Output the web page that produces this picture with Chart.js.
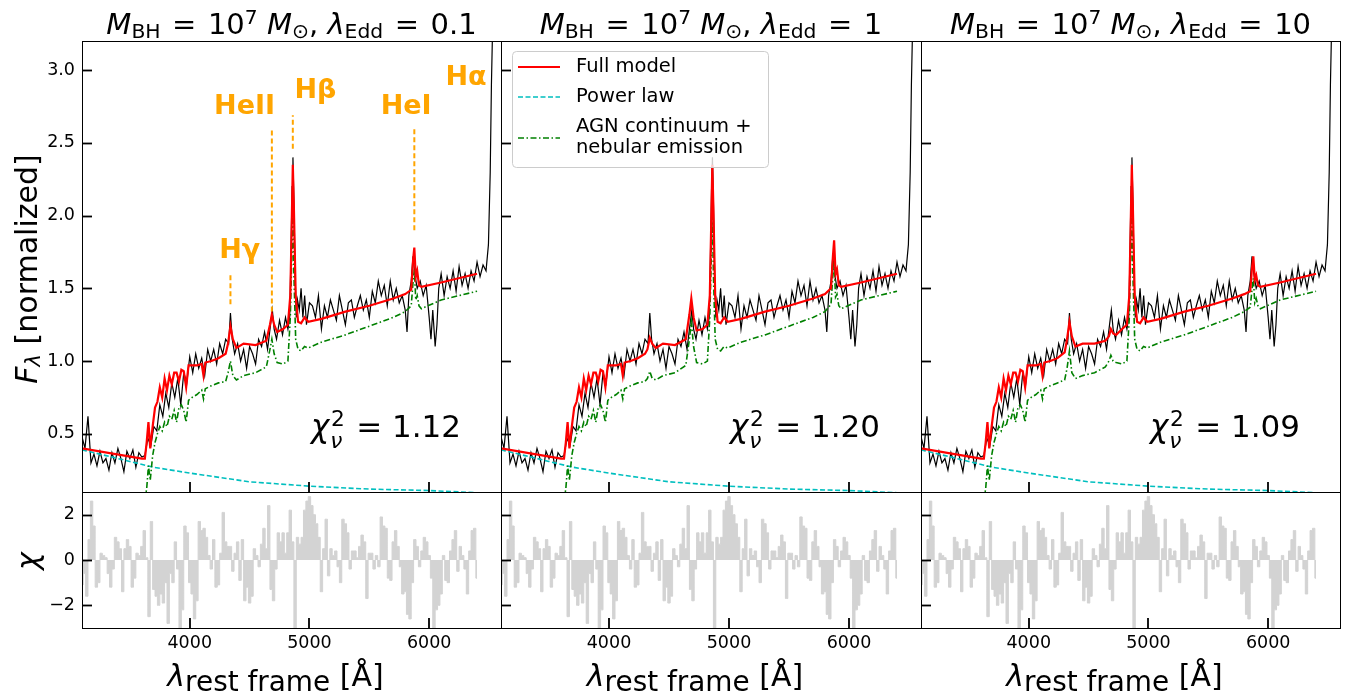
<!DOCTYPE html>
<html>
<head>
<meta charset="utf-8">
<script src="https://cdn.jsdelivr.net/npm/chart.js@4.4.1/dist/chart.umd.min.js"></script>
<style>
  body { margin: 0; background: #fff; width: 1357px; height: 698px; position: relative; overflow: hidden;
         font-family: 'DejaVu Sans', sans-serif; color: #000; }
  canvas { position: absolute; }
  .txt { position: absolute; white-space: nowrap; line-height: 1; }
  .title { font-size: 29px; transform: translateX(-50%); top: 7px; }
  .title .eq { margin: 0 0.08em; }
  .xlab { font-size: 30px; transform: translateX(-50%); top: 661px; }
  .xlab .sb { font-size: 0.93em; }
  .ylab { font-size: 30px; transform: translate(-50%, -50%) rotate(-90deg); }
  .chi2 { font-size: 31px; transform: translateX(-100%); top: 411px; }
  .sb { font-size: 0.7em; vertical-align: -0.18em; }
  .sp { font-size: 0.7em; vertical-align: 0.5em; }
  .ss { display: inline-block; position: relative; width: 0.55em; height: 0; }
  .ss .a { position: absolute; left: 0.08em; bottom: 0.36em; font-size: 0.7em; }
  .ss .b { position: absolute; left: 0.05em; top: -0.33em; font-size: 0.7em; font-style: italic; }
</style>
</head>
<body>
<script>
"use strict";

// observed spectrum (rest frame, normalized)
const obsWave = [3100, 3125, 3150, 3175, 3200, 3225, 3250, 3275, 3300, 3325, 3350, 3375, 3400, 3425, 3450, 3475,
  3500, 3525, 3550, 3575, 3600, 3625, 3650, 3675, 3700, 3725, 3750, 3775, 3800, 3825, 3850, 3875, 3900, 3925,
  3950, 3975, 4000, 4025, 4050, 4075, 4100, 4125, 4150, 4175, 4200, 4225, 4250, 4275, 4300, 4325, 4340, 4355,
  4375, 4400, 4425, 4450, 4475, 4500, 4525, 4550, 4575, 4600, 4625, 4650, 4675, 4690, 4705, 4725, 4750, 4775,
  4800, 4820, 4835, 4845, 4855, 4862, 4870, 4880, 4890, 4900, 4915, 4930, 4945, 4960, 4975, 5000, 5025, 5050,
  5075, 5100, 5125, 5150, 5175, 5200, 5225, 5250, 5275, 5300, 5325, 5350, 5375, 5400, 5425, 5450, 5475, 5500,
  5525, 5550, 5575, 5600, 5625, 5650, 5675, 5700, 5725, 5750, 5775, 5800, 5815, 5830, 5850, 5865, 5880, 5900,
  5925, 5950, 5975, 6000, 6015, 6030, 6050, 6065, 6080, 6100, 6125, 6150, 6175, 6200, 6225, 6250, 6275, 6300,
  6325, 6350, 6375, 6400, 6425, 6450, 6475, 6495, 6510, 6520, 6535];
const obsFlux = [0.48, 0.40, 0.62, 0.30, 0.36, 0.28, 0.38, 0.30, 0.33, 0.25, 0.37, 0.30, 0.40, 0.33, 0.24, 0.38,
  0.33, 0.39, 0.27, 0.37, 0.34, 0.35, 0.47, 0.42, 0.55, 0.52, 0.70, 0.62, 0.78, 0.68, 0.85, 0.75, 0.88, 0.70,
  0.92, 0.85, 1.03, 0.92, 1.05, 0.95, 1.02, 0.90, 1.08, 1.00, 1.08, 0.98, 1.12, 1.05, 1.15, 1.12, 1.33, 1.15,
  1.05, 1.12, 1.00, 1.08, 0.95, 1.10, 1.05, 0.98, 1.15, 1.10, 1.20, 1.08, 1.25, 1.35, 1.22, 1.15, 1.28, 1.18,
  1.30, 1.22, 1.30, 1.70, 2.20, 2.40, 2.10, 1.60, 1.30, 1.42, 1.35, 1.50, 1.30, 1.45, 1.25, 1.40, 1.38, 1.30,
  1.45, 1.22, 1.38, 1.30, 1.42, 1.35, 1.28, 1.45, 1.35, 1.25, 1.40, 1.42, 1.30, 1.38, 1.45, 1.35, 1.42, 1.30,
  1.48, 1.40, 1.55, 1.45, 1.52, 1.38, 1.55, 1.42, 1.50, 1.40, 1.45, 1.35, 1.20, 1.45, 1.55, 1.72, 1.60, 1.50,
  1.55, 1.45, 1.52, 1.30, 1.15, 1.35, 1.10, 1.25, 1.50, 1.60, 1.45, 1.58, 1.50, 1.62, 1.48, 1.65, 1.52, 1.60,
  1.50, 1.62, 1.55, 1.68, 1.58, 1.66, 1.62, 1.80, 2.30, 2.90, 3.50];

// model grid
const modelWave = [3100, 3600, 3625, 3640, 3655, 3670, 3690, 3710, 3730, 3750,
  3770, 3790, 3810, 3830, 3850, 3870, 3890, 3910, 3930, 3950,
  3970, 3990, 4020, 4060, 4100, 4115, 4130, 4180, 4240, 4300,
  4320, 4340, 4360, 4390, 4450, 4550, 4640, 4670, 4686, 4705,
  4730, 4780, 4820, 4840, 4852, 4861, 4870, 4885, 4905, 4930,
  4959, 4990, 5100, 5300, 5500, 5700, 5800, 5850, 5866, 5876,
  5888, 5900, 5915, 5935, 6100, 6400];

const fullModel1 = [0.40, 0.33, 0.33, 0.44, 0.58, 0.40, 0.55, 0.68, 0.72, 0.82,
  0.75, 0.88, 0.80, 0.90, 0.84, 0.92, 0.92, 0.86, 0.94, 0.93,
  0.82, 0.97, 0.97, 0.97, 0.98, 0.90, 0.99, 1.00, 1.02, 1.05,
  1.12, 1.24, 1.15, 1.09, 1.12, 1.11, 1.14, 1.25, 1.32, 1.25,
  1.20, 1.22, 1.25, 1.45, 1.95, 2.35, 2.05, 1.45, 1.27, 1.26,
  1.30, 1.27, 1.29, 1.34, 1.38, 1.43, 1.46, 1.49, 1.70, 1.78,
  1.58, 1.62, 1.52, 1.51, 1.54, 1.60];
const fullModel2 = [0.40, 0.33, 0.33, 0.44, 0.58, 0.40, 0.55, 0.68, 0.72, 0.82,
  0.75, 0.88, 0.80, 0.90, 0.84, 0.92, 0.92, 0.86, 0.94, 0.93,
  0.82, 0.97, 0.97, 0.97, 0.98, 0.90, 0.99, 1.00, 1.02, 1.05,
  1.08, 1.16, 1.12, 1.09, 1.12, 1.11, 1.15, 1.32, 1.43, 1.30,
  1.21, 1.22, 1.25, 1.45, 1.95, 2.35, 2.05, 1.45, 1.27, 1.26,
  1.30, 1.27, 1.29, 1.34, 1.38, 1.43, 1.46, 1.50, 1.72, 1.83,
  1.60, 1.63, 1.52, 1.51, 1.54, 1.60];
const fullModel3 = [0.40, 0.33, 0.33, 0.44, 0.58, 0.40, 0.55, 0.68, 0.72, 0.82,
  0.75, 0.88, 0.80, 0.90, 0.84, 0.92, 0.92, 0.86, 0.94, 0.93,
  0.82, 0.97, 0.97, 0.97, 0.98, 0.90, 0.99, 1.00, 1.02, 1.06,
  1.15, 1.27, 1.17, 1.10, 1.12, 1.12, 1.14, 1.17, 1.22, 1.19,
  1.18, 1.22, 1.25, 1.45, 1.95, 2.35, 2.05, 1.45, 1.27, 1.26,
  1.30, 1.27, 1.29, 1.34, 1.38, 1.43, 1.46, 1.48, 1.65, 1.72,
  1.56, 1.59, 1.52, 1.51, 1.54, 1.60];

const agnNeb1 = [null, -0.3, 0.05, 0.12, 0.28, 0.18, 0.35, 0.44, 0.50, 0.55,
  0.52, 0.58, 0.55, 0.62, 0.60, 0.66, 0.58, 0.68, 0.70, 0.66,
  0.58, 0.73, 0.75, 0.77, 0.80, 0.74, 0.81, 0.83, 0.85, 0.86,
  0.92, 1.00, 0.90, 0.87, 0.90, 0.92, 0.96, 1.08, 1.15, 1.05,
  0.99, 0.98, 1.00, 1.30, 1.70, 2.05, 1.60, 1.15, 1.08, 1.07,
  1.10, 1.09, 1.13, 1.18, 1.24, 1.30, 1.34, 1.38, 1.55, 1.63,
  1.42, 1.45, 1.38, 1.36, 1.42, 1.48];
const agnNeb2 = [null, -0.3, 0.05, 0.12, 0.28, 0.18, 0.35, 0.44, 0.50, 0.55,
  0.52, 0.58, 0.55, 0.62, 0.60, 0.66, 0.58, 0.68, 0.70, 0.66,
  0.58, 0.73, 0.75, 0.77, 0.80, 0.74, 0.81, 0.83, 0.85, 0.86,
  0.88, 0.93, 0.88, 0.87, 0.90, 0.92, 0.97, 1.15, 1.27, 1.10,
  0.99, 0.98, 1.00, 1.30, 1.70, 2.05, 1.60, 1.15, 1.08, 1.07,
  1.10, 1.09, 1.13, 1.18, 1.24, 1.30, 1.34, 1.39, 1.60, 1.68,
  1.44, 1.46, 1.38, 1.36, 1.42, 1.48];
const agnNeb3 = [null, -0.3, 0.05, 0.12, 0.28, 0.18, 0.35, 0.44, 0.50, 0.55,
  0.52, 0.58, 0.55, 0.62, 0.60, 0.66, 0.58, 0.68, 0.70, 0.66,
  0.58, 0.73, 0.75, 0.77, 0.80, 0.74, 0.81, 0.83, 0.85, 0.87,
  0.95, 1.07, 0.92, 0.88, 0.90, 0.92, 0.96, 1.00, 1.04, 1.00,
  0.99, 0.98, 1.00, 1.30, 1.70, 2.05, 1.60, 1.15, 1.08, 1.07,
  1.10, 1.09, 1.13, 1.18, 1.24, 1.30, 1.34, 1.37, 1.50, 1.57,
  1.40, 1.43, 1.38, 1.36, 1.42, 1.48];

const powWave = [3100, 3300, 3500, 3700, 4000, 4500, 5000, 5500, 6000, 6400];
const powFlux = [0.39, 0.35, 0.31, 0.27, 0.23, 0.17, 0.14, 0.12, 0.11, 0.095];

// residuals
const chiWave = [3100, 3120, 3140, 3160, 3180, 3200, 3220, 3240, 3260, 3280, 3300, 3320, 3340, 3360, 3380, 3400,
  3420, 3440, 3460, 3480, 3500, 3520, 3540, 3560, 3580, 3600, 3620, 3640, 3660, 3680, 3700, 3720, 3740, 3760,
  3780, 3800, 3820, 3840, 3860, 3880, 3900, 3920, 3940, 3960, 3980, 4000, 4020, 4040, 4060, 4080, 4100, 4120,
  4140, 4160, 4180, 4200, 4220, 4240, 4260, 4280, 4300, 4320, 4340, 4360, 4380, 4400, 4420, 4440, 4460, 4480,
  4500, 4520, 4540, 4560, 4580, 4600, 4620, 4640, 4660, 4680, 4700, 4720, 4740, 4760, 4780, 4800, 4820, 4840,
  4860, 4880, 4900, 4920, 4940, 4960, 4980, 5000, 5020, 5040, 5060, 5080, 5100, 5120, 5140, 5160, 5180, 5200,
  5220, 5240, 5260, 5280, 5300, 5320, 5340, 5360, 5380, 5400, 5420, 5440, 5460, 5480, 5500, 5520, 5540, 5560,
  5580, 5600, 5620, 5640, 5660, 5680, 5700, 5720, 5740, 5760, 5780, 5800, 5820, 5840, 5860, 5880, 5900, 5920,
  5940, 5960, 5980, 6000, 6020, 6040, 6060, 6080, 6100, 6120, 6140, 6160, 6180, 6200, 6220, 6240, 6260, 6280,
  6300, 6320, 6340, 6360, 6380, 6400];
const chiVal = [-1.1, -0.6, -1.6, 0.9, 2.6, 1.5, -1.2, -1.0, 0.3, 0.2, 0.1, -0.6, -1.2, -0.4, 1.0, 0.8,
  0.5, -1.4, 0.5, 0.9, 0.6, -1.2, -0.8, 0.3, 0.2, 0.6, 1.3, 0.1, -2.5, 1.7, -1.3, -1.6, -2.0, -1.5,
  -1.9, -1.0, -2.8, -0.6, -1.0, 0.8, -0.4, -3.0, -2.2, 1.5, 1.2, -1.0, -1.5, -2.6, -1.8, 1.7, 1.3, 1.4,
  1.0, 0.2, -0.4, 0.9, -1.2, -1.1, 0.3, 2.1, 0.8, 0.6, 0.6, -0.5, 0.3, 0.8, -0.9, 0.9, -1.8, -1.2,
  -1.9, -1.6, 0.5, 0.2, -0.3, 0.7, 1.4, 0.5, 2.4, -1.3, -1.8, -0.4, 1.2, 0.8, 1.2, 0.3, 1.2, 2.2,
  0.8, -3.0, 1.0, 0.7, 1.0, 2.2, 2.6, 2.8, 2.4, 2.0, 1.6, 1.0, -1.4, 0.5, 1.8, -0.7, 0.5, 0.2,
  0.4, -0.3, -1.0, 1.8, 1.6, 1.2, -0.4, 0.4, 0.4, 0.1, 0.6, 1.1, 0.8, -1.7, 0.3, 0.3, -0.4, 0.2,
  -0.3, 1.9, 1.5, 1.4, -0.8, -0.9, 0.8, 1.3, 0.6, -0.3, -1.5, -1.4, -2.4, -2.6, -1.0, 0.9, 0.6, -0.3,
  0.4, 1.0, 0.8, 0.2, -0.8, -3.0, -2.2, -2.0, -1.5, 0.2, -0.9, -1.0, 0.4, 0.9, 1.3, -0.5, 0.6, 0.2,
  -0.4, -1.5, 0.4, 1.3, 1.4, -0.8];

const waveTicks = [4000, 5000, 6000];
const fluxTicks = [0.5, 1.0, 1.5, 2.0, 2.5, 3.0];
const chiTicks = [-2, 0, 2];

const eddRatio = ['0.1', '1', '10'];
const chi2Red = ['1.12', '1.20', '1.09'];
const fullModels = [fullModel1, fullModel2, fullModel3];
const agnNebs = [agnNeb1, agnNeb2, agnNeb3];

// emission line markers: [name, wavelength, dash bottom, dash top, label x, label y]
const lineMarks = [
  ['Hγ', 4340, 1.39, 1.59, 4417, 1.71],
  ['HeII', 4686, 1.34, 2.60, 4458, 2.70],
  ['Hβ', 4861, 2.46, 2.69, 5050, 2.81],
  ['HeI', 5876, 1.90, 2.60, 5808, 2.70],
  ['Hα', 6563, null, null, 6308, 2.90]
];

const xy = (xs, ys) => xs.map((x, i) => ({x: x, y: ys[i]}));

const panelLeft = [82, 501, 921];
const panelWidth = [419, 420, 419];
const FONT = 'DejaVu Sans';

const frameTicks = {
  id: 'frameTicks',
  afterDraw(chart) {
    const {ctx, chartArea: a, scales} = chart;
    ctx.save();
    ctx.strokeStyle = '#000';
    ctx.lineWidth = 1.8;
    scales.y.ticks.forEach((t) => {
      const py = Math.round(scales.y.getPixelForValue(t.value)) + 0.5;
      ctx.beginPath(); ctx.moveTo(a.left, py); ctx.lineTo(a.left + 10, py); ctx.stroke();
    });
    scales.x.ticks.forEach((t) => {
      const px = Math.round(scales.x.getPixelForValue(t.value));
      ctx.beginPath(); ctx.moveTo(px, a.bottom); ctx.lineTo(px, a.bottom - 10); ctx.stroke();
    });
    ctx.lineWidth = 1;
    ctx.strokeRect(a.left + 0.5, a.top + 0.5, a.right - a.left, a.bottom - a.top);
    ctx.restore();
  }
};

const lineLabels = {
  id: 'lineLabels',
  afterDatasetsDraw(chart, args, opts) {
    if (!opts.show) return;
    const {ctx, scales: {x, y}} = chart;
    ctx.save();
    ctx.strokeStyle = '#ffa500';
    ctx.fillStyle = '#ffa500';
    ctx.lineWidth = 2;
    ctx.setLineDash([5, 3]);
    lineMarks.forEach((m) => {
      if (m[2] === null) return;
      const px = x.getPixelForValue(m[1]);
      ctx.beginPath(); ctx.moveTo(px, y.getPixelForValue(m[2])); ctx.lineTo(px, y.getPixelForValue(m[3])); ctx.stroke();
    });
    ctx.font = 'bold 27px "' + FONT + '"';
    ctx.textAlign = 'center';
    ctx.textBaseline = 'alphabetic';
    lineMarks.forEach((m) => {
      ctx.fillText(m[0], x.getPixelForValue(m[4]), y.getPixelForValue(m[5]));
    });
    ctx.restore();
  }
};

const legendBox = {
  id: 'legendBox',
  afterDatasetsDraw(chart, args, opts) {
    if (!opts.show) return;
    const {ctx, chartArea: a} = chart;
    const L = a.left, T = a.top;
    ctx.save();
    ctx.beginPath();
    ctx.roundRect(L + 11.5, T + 10.5, 256, 116, 4);
    ctx.fillStyle = 'rgba(255,255,255,0.8)';
    ctx.fill();
    ctx.strokeStyle = '#cccccc';
    ctx.lineWidth = 1;
    ctx.stroke();
    const items = [
      {y: T + 26, color: 'red', dash: [], w: 2},
      {y: T + 56, color: '#00bfbf', dash: [5, 2.5], w: 1.6},
      {y: T + 97, color: 'green', dash: [6, 2.5, 1.5, 2.5], w: 1.6}
    ];
    items.forEach((it) => {
      ctx.strokeStyle = it.color; ctx.lineWidth = it.w; ctx.setLineDash(it.dash);
      ctx.beginPath(); ctx.moveTo(L + 17, it.y); ctx.lineTo(L + 59, it.y); ctx.stroke();
    });
    ctx.fillStyle = '#000';
    ctx.font = '19.5px "' + FONT + '"';
    ctx.textBaseline = 'middle';
    ctx.fillText('Full model', L + 75, T + 26);
    ctx.fillText('Power law', L + 75, T + 56);
    ctx.fillText('AGN continuum +', L + 75, T + 86);
    ctx.fillText('nebular emission', L + 75, T + 107);
    ctx.restore();
  }
};

function addCanvas(left, top, w, h) {
  const c = document.createElement('canvas');
  c.width = w; c.height = h;
  c.style.left = left + 'px'; c.style.top = top + 'px';
  document.body.appendChild(c);
  return c;
}

function addText(cls, html, styles) {
  const d = document.createElement('div');
  d.className = 'txt ' + cls;
  d.innerHTML = html;
  Object.assign(d.style, styles);
  document.body.appendChild(d);
}

const tickFont = {family: FONT, size: 17.5};
const noPad = (s) => { s.paddingTop = 0; s.paddingBottom = 0; s.paddingLeft = 0; s.paddingRight = 0; };

for (let i = 0; i < 3; i++) {
  const left = panelLeft[i] - 82;
  const w = 82 + panelWidth[i] + 2;

  // spectrum panel
  new Chart(addCanvas(left, 0, w, 494), {
    type: 'line',
    data: {
      datasets: [
        {data: xy(modelWave, fullModels[i]), borderColor: 'red', borderWidth: 2.2, pointRadius: 0},
        {data: xy(modelWave, agnNebs[i]), borderColor: 'green', borderWidth: 1.6, borderDash: [6, 2.5, 1.5, 2.5], pointRadius: 0},
        {data: xy(powWave, powFlux), borderColor: '#00bfbf', borderWidth: 1.6, borderDash: [5, 2.5], pointRadius: 0},
        {data: xy(obsWave, obsFlux), borderColor: '#000', borderWidth: 1.2, pointRadius: 0}
      ]
    },
    options: {
      responsive: false, animation: false, events: [],
      layout: {padding: {top: 41, right: 2, bottom: 2, left: 0}},
      plugins: {legend: {display: false}, tooltip: {enabled: false},
        lineLabels: {show: i === 0}, legendBox: {show: i === 1}},
      scales: {
        x: {type: 'linear', min: 3100, max: 6600,
          afterBuildTicks: (s) => { s.ticks = waveTicks.map((v) => ({value: v})); },
          afterFit: (s) => { s.height = 0; noPad(s); },
          ticks: {display: false}, grid: {display: false}, border: {display: false}},
        y: {type: 'linear', min: 0.1, max: 3.2,
          afterBuildTicks: (s) => { s.ticks = fluxTicks.map((v) => ({value: v})); },
          afterFit: (s) => { s.width = 82; noPad(s); },
          ticks: {display: i === 0, padding: 7, color: '#000', font: tickFont, callback: (v) => v.toFixed(1)},
          grid: {display: false, drawTicks: false}, border: {display: false}}
      }
    },
    plugins: [frameTicks, lineLabels, legendBox]
  });

  // residual panel
  new Chart(addCanvas(left, 492, w, 206), {
    type: 'line',
    data: {
      datasets: [
        {data: xy(chiWave, chiVal), borderColor: '#d3d3d3', backgroundColor: '#d3d3d3', borderWidth: 1,
          stepped: 'middle', fill: 'origin', pointRadius: 0}
      ]
    },
    options: {
      responsive: false, animation: false, events: [],
      layout: {padding: {top: 0, right: 2, bottom: 0, left: 0}},
      plugins: {legend: {display: false}, tooltip: {enabled: false}},
      scales: {
        x: {type: 'linear', min: 3100, max: 6600,
          afterBuildTicks: (s) => { s.ticks = waveTicks.map((v) => ({value: v})); },
          afterFit: (s) => { s.height = 70; noPad(s); },
          ticks: {padding: 5, color: '#000', font: tickFont, maxRotation: 0, callback: (v) => String(v)},
          grid: {display: false, drawTicks: false}, border: {display: false}},
        y: {type: 'linear', min: -3, max: 3,
          afterBuildTicks: (s) => { s.ticks = chiTicks.map((v) => ({value: v})); },
          afterFit: (s) => { s.width = 82; noPad(s); },
          ticks: {display: i === 0, padding: 7, color: '#000', font: tickFont,
            callback: (v) => (v < 0 ? '\u2212' + Math.abs(v) : String(v))},
          grid: {display: false, drawTicks: false}, border: {display: false}}
      }
    },
    plugins: [frameTicks]
  });

  const cx = panelLeft[i] + panelWidth[i] / 2;
  addText('title',
    '<i>M</i><span class="sb">BH</span><span class="eq"> = </span>10<span class="sp">7</span> <i>M</i><span class="sb">\u2299</span>, ' +
    '<i>\u03bb</i><span class="sb">Edd</span><span class="eq"> = </span>' + eddRatio[i],
    {left: cx + 'px'});
  addText('xlab', '<i>\u03bb</i><span class="sb">rest frame</span> [\u00c5]', {left: (cx - 16) + 'px'});
  addText('chi2', '<i>\u03c7</i><span class="ss"><span class="a">2</span><span class="b">\u03bd</span></span> = ' + chi2Red[i],
    {left: (panelLeft[i] + 379) + 'px'});
}

addText('ylab', '<i>F</i><span class="sb"><i>\u03bb</i></span> [normalized]', {left: '28px', top: '269px'});
addText('ylab', '<i>\u03c7</i>', {left: '28px', top: '561px'});
</script>
</body>
</html>
